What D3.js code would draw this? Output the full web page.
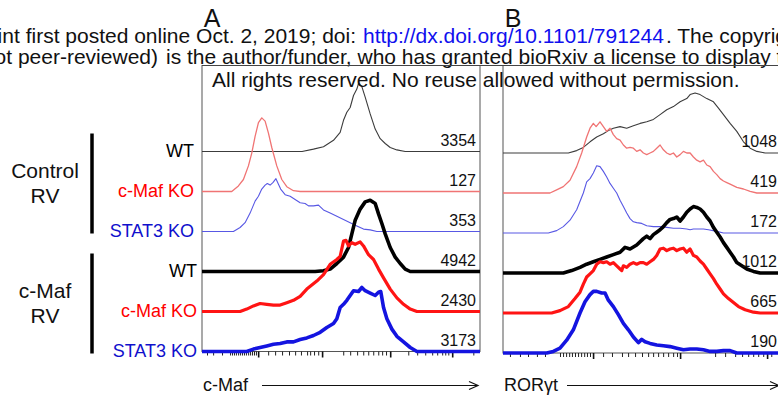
<!DOCTYPE html>
<html>
<head>
<meta charset="utf-8">
<script src="https://d3js.org/d3.v7.min.js"></script>
<style>
  body { margin: 0; background: #fff; }
  svg { display: block; font-family: "Liberation Sans", Arial, Helvetica, sans-serif; }
</style>
</head>
<body>
<script>
// row order is the same in both panels
const rowLabels = ["WT", "c-Maf KO", "STAT3 KO", "WT", "c-Maf KO", "STAT3 KO"];
const groupLabels = [["Control", "RV"], ["c-Maf", "RV"]];
const cmafCounts = [3354, 127, 353, 4942, 2430, 3173];
const rorgtCounts = [1048, 419, 172, 1012, 665, 190];

// histograms: [channel (0-1000), % of mode]
const cmafCtrlWT = [[360,0],[401,3],[437,6],[473,14],[497,24],[509,39],[521,49],[533,55],[545,70],[557,78],[563,85],[575,81],[587,68],[605,47],[623,28],[641,16],[659,10],[677,5],[701,2],[731,0]];
const cmafCtrlMafKO = [[107,0],[131,7],[149,15],[167,32],[179,48],[191,69],[203,86],[215,92],[227,88],[239,73],[251,55],[269,32],[287,15],[305,6],[329,1],[353,0]];
const cmafCtrlStat3KO = [[113,0],[137,5],[155,11],[173,23],[191,38],[203,44],[215,53],[227,58],[235,60],[245,58],[255,61],[266,66],[275,59],[283,53],[299,46],[317,44],[335,40],[353,36],[371,35],[383,32],[401,32],[419,33],[437,27],[461,23],[485,19],[509,15],[533,11],[557,7],[581,3],[605,2],[629,0]];
const cmafRvWT = [[407,0],[437,1],[461,3],[485,10],[509,18],[527,30],[539,47],[551,64],[569,78],[587,87],[605,89],[623,85],[635,72],[647,60],[659,47],[677,30],[695,18],[713,10],[731,3],[749,0],[773,0]];
const cmafRvMafKO = [[137,0],[161,3],[185,7],[209,10],[233,9],[257,8],[281,8],[305,11],[329,14],[353,19],[377,28],[395,33],[413,38],[437,46],[461,59],[485,65],[497,69],[509,88],[518,89],[527,82],[539,86],[551,84],[569,87],[581,82],[599,71],[617,65],[635,53],[653,42],[677,28],[701,17],[725,9],[749,3],[773,0]];
const cmafRvStat3KO = [[161,0],[185,3],[209,5],[233,7],[257,9],[281,10],[305,12],[329,12],[353,15],[377,17],[401,20],[425,24],[449,30],[473,35],[485,41],[497,55],[509,59],[521,64],[533,70],[545,76],[563,75],[575,80],[587,76],[605,73],[623,70],[635,74],[643,75],[653,55],[665,41],[683,28],[701,19],[725,12],[749,5],[773,0]];

const rorgtCtrlWT = [[235,0],[265,3],[289,7],[313,14],[337,20],[361,24],[379,28],[397,31],[421,33],[445,31],[469,34],[493,37],[517,39],[541,42],[565,48],[589,54],[613,58],[637,64],[661,68],[673,73],[691,75],[709,73],[733,68],[757,64],[775,56],[793,48],[817,37],[841,27],[865,14],[889,6],[913,2],[943,0]];
const rorgtCtrlMafKO = [[169,0],[193,4],[217,8],[241,16],[265,33],[283,50],[301,70],[313,81],[325,87],[335,83],[349,89],[361,83],[373,77],[385,81],[397,73],[409,68],[421,66],[433,60],[445,56],[457,57],[469,56],[481,52],[493,54],[505,50],[517,48],[529,50],[541,52],[553,56],[565,60],[577,54],[589,50],[601,48],[613,50],[625,45],[637,48],[649,52],[661,50],[673,50],[685,45],[697,41],[709,39],[721,41],[733,35],[745,33],[757,27],[769,23],[781,18],[793,15],[805,13],[817,11],[841,7],[865,5],[889,2],[913,0]];
const rorgtCtrlStat3KO = [[163,0],[193,3],[217,8],[241,16],[265,29],[289,50],[301,64],[313,68],[325,75],[337,84],[349,83],[361,77],[373,70],[385,62],[397,56],[409,50],[421,41],[433,33],[445,25],[457,18],[469,14],[481,13],[499,12],[517,9],[541,8],[565,8],[589,7],[613,6],[637,6],[661,5],[673,4],[685,5],[703,5],[721,5],[739,4],[769,2],[793,0]];
const rorgtRvWT = [[217,0],[247,3],[277,7],[301,11],[325,14],[349,17],[373,20],[397,23],[421,26],[439,32],[457,30],[481,35],[505,43],[517,46],[529,43],[541,48],[553,51],[565,54],[577,58],[589,63],[601,67],[613,68],[625,70],[637,65],[649,70],[661,76],[673,80],[685,83],[697,82],[709,80],[721,76],[733,70],[745,65],[757,57],[769,51],[781,45],[793,38],[805,32],[817,26],[829,20],[841,13],[859,9],[877,5],[901,2],[925,0]];
const rorgtRvMafKO = [[175,0],[205,3],[235,8],[259,18],[277,26],[289,36],[301,45],[313,49],[325,53],[337,61],[349,64],[361,63],[373,64],[385,61],[397,63],[409,59],[421,55],[427,53],[433,59],[445,57],[457,61],[469,63],[481,61],[493,63],[505,63],[517,61],[529,64],[541,67],[553,72],[565,80],[577,81],[589,78],[601,80],[613,81],[625,78],[637,80],[649,81],[661,76],[673,80],[685,72],[697,70],[709,65],[721,61],[733,55],[745,49],[757,43],[769,36],[781,30],[793,24],[811,18],[829,13],[847,8],[871,4],[901,1],[925,0]];
const rorgtRvStat3KO = [[157,0],[181,2],[205,6],[229,16],[253,29],[277,50],[295,64],[313,73],[325,77],[337,77],[355,75],[367,75],[379,66],[397,58],[415,48],[433,37],[451,29],[469,20],[487,13],[499,17],[511,14],[529,12],[553,10],[577,9],[601,8],[625,6],[649,4],[673,5],[697,5],[721,4],[745,2],[769,2],[793,3],[817,3],[841,0],[865,0]];

// axis ticks (channel units), no tick labels in the figure
const cmafMajorTicks = [202, 432, 677, 900];
const cmafMinorTicks = [18, 40, 72, 101, 108, 115, 122, 130, 137, 144, 151, 158, 166, 173, 180, 187, 194, 238, 263, 288, 313, 335, 356, 378, 389, 403, 418, 508, 533, 558, 580, 598, 616, 634, 648, 662, 742, 774, 803, 828, 846, 864, 875, 886, 976];
const rorgtMajorTicks = [324, 637, 950];
const rorgtMinorTicks = [25, 61, 90, 122, 151, 205, 216, 227, 238, 248, 259, 270, 281, 292, 302, 313, 360, 392, 428, 450, 475, 500, 522, 540, 558, 576, 594, 612, 626, 763, 799, 835, 860, 882, 900, 918, 936, 965];

const rowStyles = [
    { color: "#3c3c3c", width: 1.1 },
    { color: "#f07474", width: 1.3 },
    { color: "#5858e4", width: 1.1 },
    { color: "#000000", width: 3.6 },
    { color: "#ff1414", width: 3.2 },
    { color: "#1414e0", width: 3.6 }
];
const labelColors = ["#000", "#ff0000", "#1010cc", "#000", "#ff0000", "#1010cc"];

const panels = [
    { letter: "A", left: 202, right: 480, top: 65.5, firstBase: 151.5, rowGap: 40,
      curves: [cmafCtrlWT, cmafCtrlMafKO, cmafCtrlStat3KO, cmafRvWT, cmafRvMafKO, cmafRvStat3KO],
      counts: cmafCounts, major: cmafMajorTicks, minor: cmafMinorTicks,
      title: "c-Maf", arrowFrom: 262, arrowTo: 478 },
    { letter: "B", left: 503, right: 781, top: 65.5, firstBase: 153, rowGap: 40,
      curves: [rorgtCtrlWT, rorgtCtrlMafKO, rorgtCtrlStat3KO, rorgtRvWT, rorgtRvMafKO, rorgtRvStat3KO],
      counts: rorgtCounts, major: rorgtMajorTicks, minor: rorgtMinorTicks,
      title: "RORγt", arrowFrom: 567, arrowTo: 779 }
];

const svg = d3.select("body").append("svg")
    .attr("width", 778)
    .attr("height", 400);

const yHeight = d3.scaleLinear().domain([0, 100]).range([0, 80]);

panels.forEach(p => {
    const x = d3.scaleLinear().domain([0, 1000]).range([p.left, p.right]);
    const rowBase = d3.scaleLinear().domain([0, 5]).range([p.firstBase, p.firstBase + 5 * p.rowGap]);
    const bottom = rowBase(5);
    const g = svg.append("g");

    // frame
    g.append("rect")
        .attr("x", p.left)
        .attr("y", p.top)
        .attr("width", p.right - p.left)
        .attr("height", bottom - p.top)
        .attr("fill", "none")
        .attr("stroke", "#555")
        .attr("stroke-width", 1);

    // ticks under the bottom edge
    g.append("g")
        .attr("transform", `translate(0,${bottom})`)
        .call(d3.axisBottom(x).tickValues(p.minor).tickSize(4).tickSizeOuter(0).tickFormat(""))
        .call(a => a.select(".domain").remove())
        .selectAll("line").attr("stroke", "#222");
    g.append("g")
        .attr("transform", `translate(0,${bottom})`)
        .call(d3.axisBottom(x).tickValues(p.major).tickSize(6).tickSizeOuter(0).tickFormat(""))
        .call(a => a.select(".domain").remove())
        .selectAll("line").attr("stroke", "#111").attr("stroke-width", 1.6);

    // offset histograms, each with a full-width baseline
    const [x0, x1] = x.domain();
    p.curves.forEach((values, i) => {
        const base = rowBase(i);
        const line = d3.line()
            .x(d => x(d[0]))
            .y(d => base - yHeight(d[1]));
        g.append("path")
            .datum([[x0, 0], ...values, [x1, 0]])
            .attr("fill", "none")
            .attr("stroke", rowStyles[i].color)
            .attr("stroke-width", rowStyles[i].width)
            .attr("stroke-linejoin", "round")
            .attr("d", line);
    });

    // event counts
    g.selectAll(".count")
        .data(p.counts)
        .enter()
        .append("text")
        .attr("x", p.right - 4)
        .attr("y", (d, i) => rowBase(i) - 6)
        .attr("text-anchor", "end")
        .attr("font-size", 16)
        .attr("fill", "#111")
        .text(d => d);

    // panel letter
    g.append("text")
        .attr("x", (p.left + 10))
        .attr("y", 27)
        .attr("text-anchor", "middle")
        .attr("font-size", 25)
        .attr("fill", "#111")
        .text(p.letter);

    // axis title with arrow
    g.append("text")
        .attr("x", p.left + 1)
        .attr("y", 391)
        .attr("font-size", 18)
        .attr("fill", "#111")
        .text(p.title);
    g.append("line")
        .attr("x1", p.arrowFrom).attr("x2", p.arrowTo)
        .attr("y1", 385.5).attr("y2", 385.5)
        .attr("stroke", "#111").attr("stroke-width", 1.2);
    g.append("path")
        .attr("d", `M${p.arrowTo - 9},381.5 L${p.arrowTo},385.5 L${p.arrowTo - 9},389.5`)
        .attr("fill", "none")
        .attr("stroke", "#111")
        .attr("stroke-width", 1.2);
});

// row labels on the left
const labelRows = d3.scaleLinear().domain([0, 5]).range([151.5, 351.5]);
svg.selectAll(".rowlabel")
    .data(rowLabels)
    .enter()
    .append("text")
    .attr("x", (d, i) => i < 3 ? 194 : 197)
    .attr("y", (d, i) => labelRows(i) + 5)
    .attr("text-anchor", "end")
    .attr("font-size", 18)
    .attr("fill", (d, i) => labelColors[i])
    .text(d => d);

// group brackets and names
groupLabels.forEach((lines, k) => {
    const top = labelRows(k * 3) - 18;
    const end = labelRows(k * 3 + 2) + 2;
    svg.append("line")
        .attr("x1", 92).attr("x2", 92)
        .attr("y1", top).attr("y2", end)
        .attr("stroke", "#000").attr("stroke-width", 3.5);
    const mid = (top + end) / 2;
    lines.forEach((t, j) => {
        svg.append("text")
            .attr("x", 45)
            .attr("y", mid + 7 + (j - 0.5) * 25)
            .attr("text-anchor", "middle")
            .attr("font-size", 21)
            .attr("fill", "#111")
            .text(t);
    });
});

// bioRxiv banner over the figure
const banner = svg.append("g").attr("font-size", 21).attr("fill", "#111");
banner.append("text").attr("x", 356).attr("y", 43).attr("text-anchor", "end")
    .text("bioRxiv preprint first posted online Oct. 2, 2019; doi:");
banner.append("text").attr("x", 363).attr("y", 43).attr("fill", "#1010ee")
    .text("http://dx.doi.org/10.1101/791244");
banner.append("text").attr("x", 666).attr("y", 43)
    .text(". The copyright holder for this preprint (which was");
banner.append("text").attr("x", 158).attr("y", 64).attr("text-anchor", "end")
    .text("(which was not peer-reviewed)");
banner.append("text").attr("x", 166).attr("y", 64)
    .text("is the author/funder, who has granted bioRxiv a license to display the preprint in perpetuity.");
banner.append("text").attr("x", 212).attr("y", 87)
    .text("All rights reserved. No reuse allowed without permission.");
svg.append("line")
    .attr("x1", 202).attr("x2", 778)
    .attr("y1", 65.5).attr("y2", 65.5)
    .attr("stroke", "#444").attr("stroke-width", 1);
</script>
</body>
</html>
